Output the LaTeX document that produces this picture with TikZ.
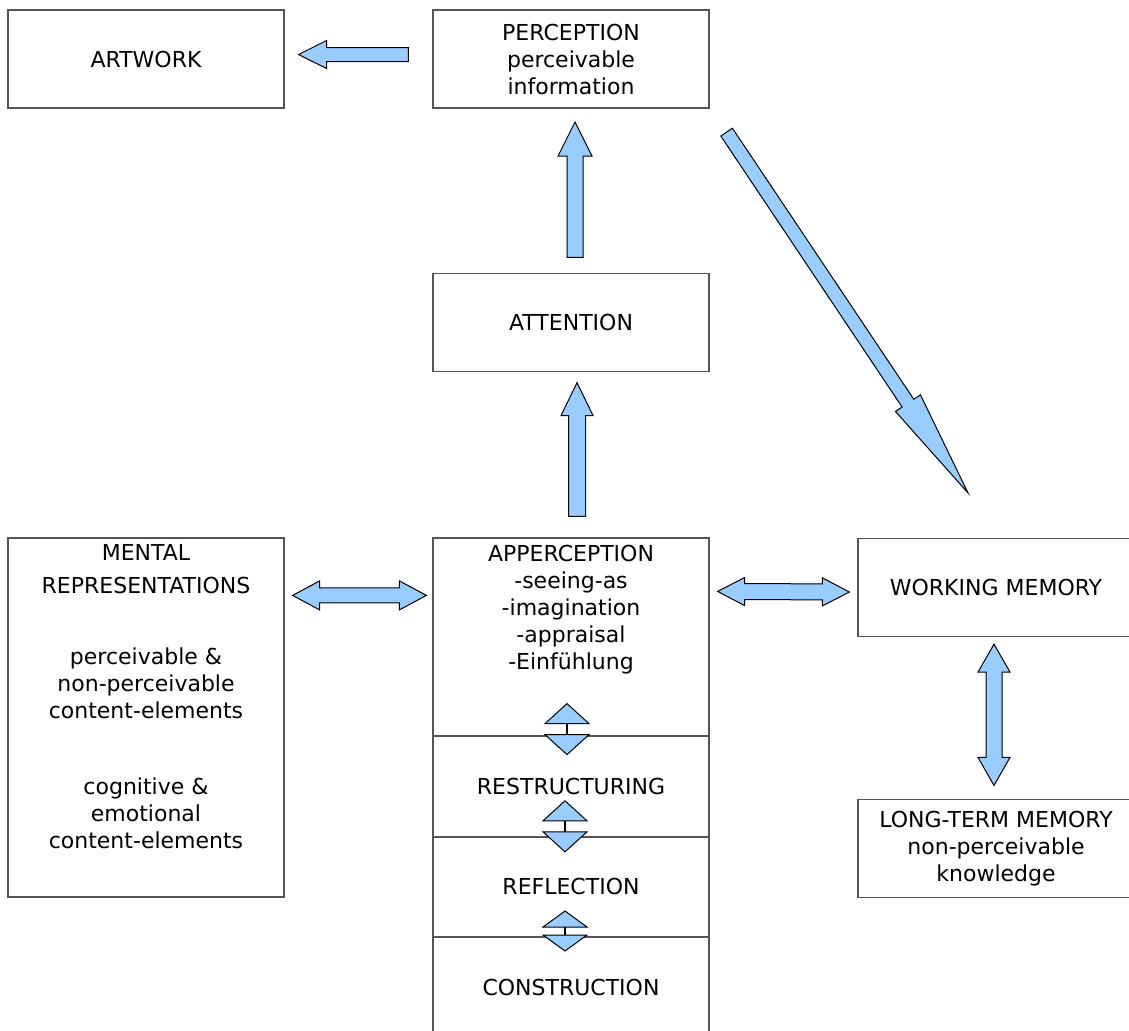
\documentclass[tikz,border=0pt]{standalone}
\usepackage{fontspec}
\setmainfont{DejaVu Sans}
\usetikzlibrary{positioning,calc}

\definecolor{arrowblue}{HTML}{99CCFF}
\definecolor{boxline}{HTML}{555555}

% block arrow: tail, tip, shaft half width, head half width, head length
\newcommand\bigarrow[5]{%
  \draw[fat] ($(#1)!#3!90:(#2)$) -- ($(#2)!#5!(#1)!#3!90:(#2)$)
    -- ($(#2)!#5!(#1)!#4!90:(#2)$) -- (#2)
    -- ($(#2)!#5!(#1)!#4!-90:(#2)$) -- ($(#2)!#5!(#1)!#3!-90:(#2)$)
    -- ($(#1)!#3!-90:(#2)$) -- cycle;}
% block arrow with two heads
\newcommand\dblarrow[5]{%
  \draw[fat] (#1) -- ($(#1)!#5!(#2)!#4!90:(#2)$) -- ($(#1)!#5!(#2)!#3!90:(#2)$)
    -- ($(#2)!#5!(#1)!#3!90:(#2)$) -- ($(#2)!#5!(#1)!#4!90:(#2)$) -- (#2)
    -- ($(#2)!#5!(#1)!#4!-90:(#2)$) -- ($(#2)!#5!(#1)!#3!-90:(#2)$)
    -- ($(#1)!#5!(#2)!#3!-90:(#2)$) -- ($(#1)!#5!(#2)!#4!-90:(#2)$) -- cycle;}
% two triangles joined by a line
\newcommand\tinyarrow[4]{%
  \draw[fat] (#1) -- ($(#1)!#4!(#2)!#3!90:(#2)$) -- ($(#1)!#4!(#2)!#3!-90:(#2)$) -- cycle;
  \draw[fat] (#2) -- ($(#2)!#4!(#1)!#3!90:(#1)$) -- ($(#2)!#4!(#1)!#3!-90:(#1)$) -- cycle;
  \draw[line width=0.6pt] ($(#1)!#4!(#2)$) -- ($(#2)!#4!(#1)$);}

\begin{document}
\begin{tikzpicture}[
    x=0.5pt, y=-0.5pt,
    node distance=0pt,
    box/.style={
        rectangle,
        draw=boxline,
        line width=0.6pt,
        minimum width=138pt,
        minimum height=49pt,
        inner sep=0pt,
        align=center,
        font=\fontsize{11}{13.5}\selectfont
    },
    txt/.style={
        inner sep=3.5pt,
        align=center,
        font=\fontsize{11}{13.5}\selectfont
    },
    fat/.style={
        draw=black,
        fill=arrowblue,
        line width=0.5pt,
        line join=miter
    }
]
\useasboundingbox (0,0) rectangle (1129,1030);

% Boxes
\node[box] (art) at (146,59) {ARTWORK};
\node[box] (perc) at (571,59) {PERCEPTION\\perceivable\\information};
\node[box] (att) at (571,322.5) {ATTENTION};
\node[box] (wm) at (996,587.5) {WORKING MEMORY};
\node[box] (ltm) at (996,848.5) {LONG-TERM MEMORY\\non-perceivable\\knowledge};
\node[box, minimum height=179.5pt] (ment) at (146,717.5) {};
\node[txt, anchor=north] (menttxt) at (ment.north) {MENTAL\\[3pt]REPRESENTATIONS\\[22pt]
    perceivable \&\\non-perceivable\\content-elements\\[24.5pt]
    cognitive \&\\emotional\\content-elements};

% Apperception column
\node[box, minimum height=98.75pt] (app) at (571,636.75) {};
\node[txt, anchor=north] (apptxt) at (app.north) {APPERCEPTION\\-seeing-as\\-imagination\\-appraisal\\-Einfühlung};
\node[box, minimum height=49.75pt, below=of app] (restr) {RESTRUCTURING};
\node[box, minimum height=49.5pt, below=of restr] (refl) {REFLECTION};
\node[box, minimum height=49.5pt, below=of refl] (constr) {CONSTRUCTION};

% Arrow ends
\coordinate (a1) at ($(perc.west)+(-24,-4.5)$);
\coordinate (b1) at ($(art.east)+(14,-4.5)$);
\coordinate (a2) at ($(att.north)+(4,-15.5)$);
\coordinate (b2) at ($(perc.south)+(4,13.5)$);
\coordinate (a3) at ($(app.north)+(6,-21)$);
\coordinate (b3) at ($(att.south)+(6,10.5)$);
\coordinate (a4) at ($(perc.south east)+(17,23.5)$);
\coordinate (b4) at ($(wm.north)+(-28,-45)$);
\coordinate (a5) at ($(ment.north east)+(8,58)$);
\coordinate (b5) at ($(app.north west)+(-6,58)$);
\coordinate (a6) at ($(app.north east)+(8,54)$);
\coordinate (b6) at ($(wm.west)+(-8,4.5)$);
\coordinate (a7) at ($(wm.south)+(-2,7)$);
\coordinate (b7) at ($(ltm.north)+(-2,-13.5)$);
\coordinate (a8) at ($(app.south)+(-4,-32.5)$);
\coordinate (b8) at ($(app.south)+(-4,18.5)$);
\coordinate (a9) at ($(restr.south)+(-6,-36)$);
\coordinate (b9) at ($(restr.south)+(-6,15)$);
\coordinate (a10) at ($(refl.south)+(-6,-26)$);
\coordinate (b10) at ($(refl.south)+(-6,14)$);

% Arrows
\bigarrow{a1}{b1}{3.5pt}{7pt}{14pt}
\bigarrow{a2}{b2}{4pt}{8.5pt}{17pt}
\bigarrow{a3}{b3}{4.25pt}{8pt}{16.5pt}
\bigarrow{a4}{b4}{3.5pt}{7.5pt}{54pt}
\dblarrow{a5}{b5}{3.75pt}{7.25pt}{13.5pt}
\dblarrow{a6}{b6}{4pt}{7pt}{13.5pt}
\dblarrow{a7}{b7}{4pt}{8pt}{14pt}
\tinyarrow{a8}{b8}{11pt}{10pt}
\tinyarrow{a9}{b9}{11pt}{10pt}
\tinyarrow{a10}{b10}{11pt}{8pt}

\end{tikzpicture}
\end{document}
